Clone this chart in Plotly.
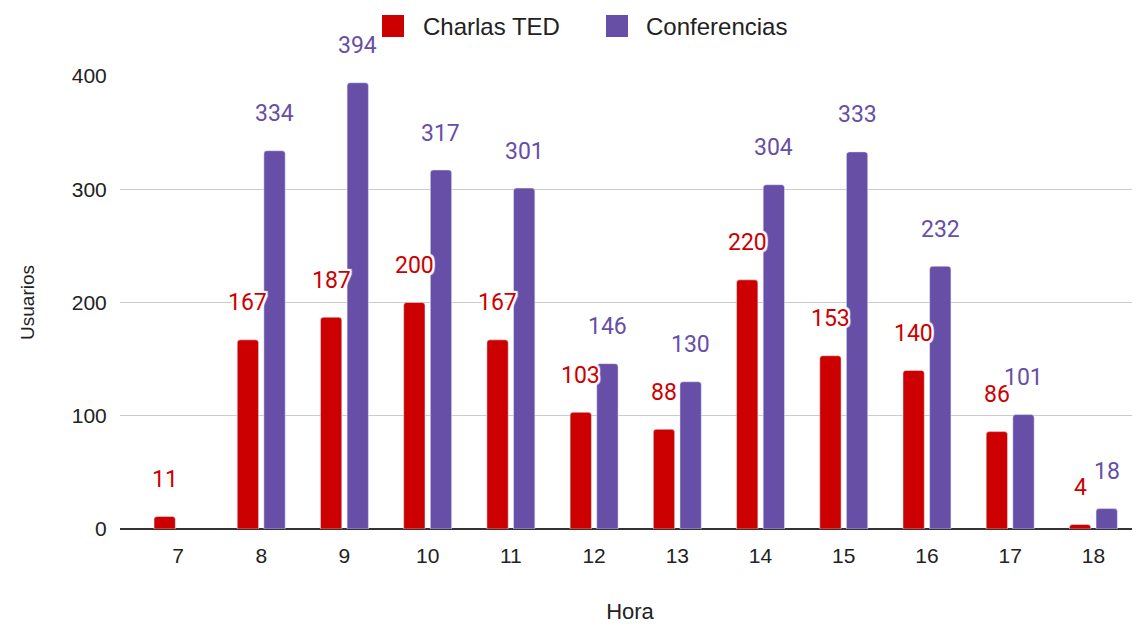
import plotly.graph_objects as go

horas = ["7", "8", "9", "10", "11", "12", "13", "14", "15", "16", "17", "18"]
charlas_ted = [11, 167, 187, 200, 167, 103, 88, 220, 153, 140, 86, 4]
conferencias = [None, 334, 394, 317, 301, 146, 130, 304, 333, 232, 101, 18]
series_names = ["Charlas TED", "Conferencias"]

RED = "#cc0000"
PURPLE = "#674ea7"
LABEL_FONT = "Roboto, Arial, sans-serif"
FONT = "Arial, 'Liberation Sans', sans-serif"

W, H = 1140, 624
PAGE_OFF = 8  # page body margin offset
ML, MR, MT, MB = 112, 8, 68, 103
PW, PH = W - ML - MR, H - MT - MB


def px_x(px):
    return (px - PAGE_OFF - ML) / PW


def px_y(py):
    return (H - MB - (py - PAGE_OFF)) / PH


fig = go.Figure()
fig.add_trace(go.Bar(x=list(range(len(horas))), y=charlas_ted, name=series_names[0],
                     marker=dict(color=RED, cornerradius=3), showlegend=False))
fig.add_trace(go.Bar(x=list(range(len(horas))), y=conferencias, name=series_names[1],
                     marker=dict(color=PURPLE, cornerradius=3), showlegend=False))

halo = ("2px 0 1px #fff, -2px 0 1px #fff, 0 2px 1px #fff, 0 -2px 1px #fff, "
        "2px 2px 1px #fff, -2px -2px 1px #fff, 2px -2px 1px #fff, -2px 2px 1px #fff")
off = 0.16
for i, (a, b) in enumerate(zip(charlas_ted, conferencias)):
    for val, col, dx in [(a, RED, -off), (b, PURPLE, off)]:
        if val is None:
            continue
        fig.add_annotation(x=i + dx, y=val, text=str(val), showarrow=False, yshift=37,
                           xref="x", yref="y",
                           font=dict(family=LABEL_FONT, size=23, color=col, shadow=halo))

# custom legend (large square swatches like the original)
for (sq_left, txt_left), name, col in zip([(382, 421), (606, 644)], series_names, [RED, PURPLE]):
    fig.add_shape(type="rect", xref="paper", yref="paper",
                  x0=px_x(sq_left), x1=px_x(sq_left + 22), y0=px_y(37), y1=px_y(15),
                  fillcolor=col, line=dict(width=0))
    fig.add_annotation(xref="paper", yref="paper", x=px_x(txt_left), y=px_y(26),
                       xanchor="left", yanchor="middle", showarrow=False, text=name,
                       font=dict(family=FONT, size=24, color="#222"))

fig.update_layout(
    width=W, height=H,
    paper_bgcolor="white", plot_bgcolor="white",
    margin=dict(l=ML, r=MR, t=MT, b=MB, autoexpand=False),
    barmode="group", bargap=0.36, bargroupgap=0.2,
    font=dict(family=FONT, color="#222"),
    showlegend=False,
)
fig.update_xaxes(tickmode="array", tickvals=list(range(len(horas))), ticktext=horas,
                 range=[-0.697, 11.56], tickfont=dict(size=21, color="#222"),
                 title=dict(text="Hora", font=dict(size=22, color="#222"), standoff=37),
                 showgrid=False, showline=False, zeroline=False, automargin=False,
                 ticks="outside", tickcolor="rgba(0,0,0,0)", ticklen=8)
fig.update_yaxes(range=[0, 400], tickvals=[0, 100, 200, 300, 400],
                 tickfont=dict(size=21, color="#222"),
                 title=dict(text="Usuarios", font=dict(size=19, color="#222"), standoff=32),
                 showgrid=True, gridcolor="#cccccc", gridwidth=1, automargin=False,
                 zeroline=True, zerolinecolor="#333333", zerolinewidth=1.5,
                 ticks="outside", tickcolor="rgba(0,0,0,0)", ticklen=8)

fig.write_html("out.html")
